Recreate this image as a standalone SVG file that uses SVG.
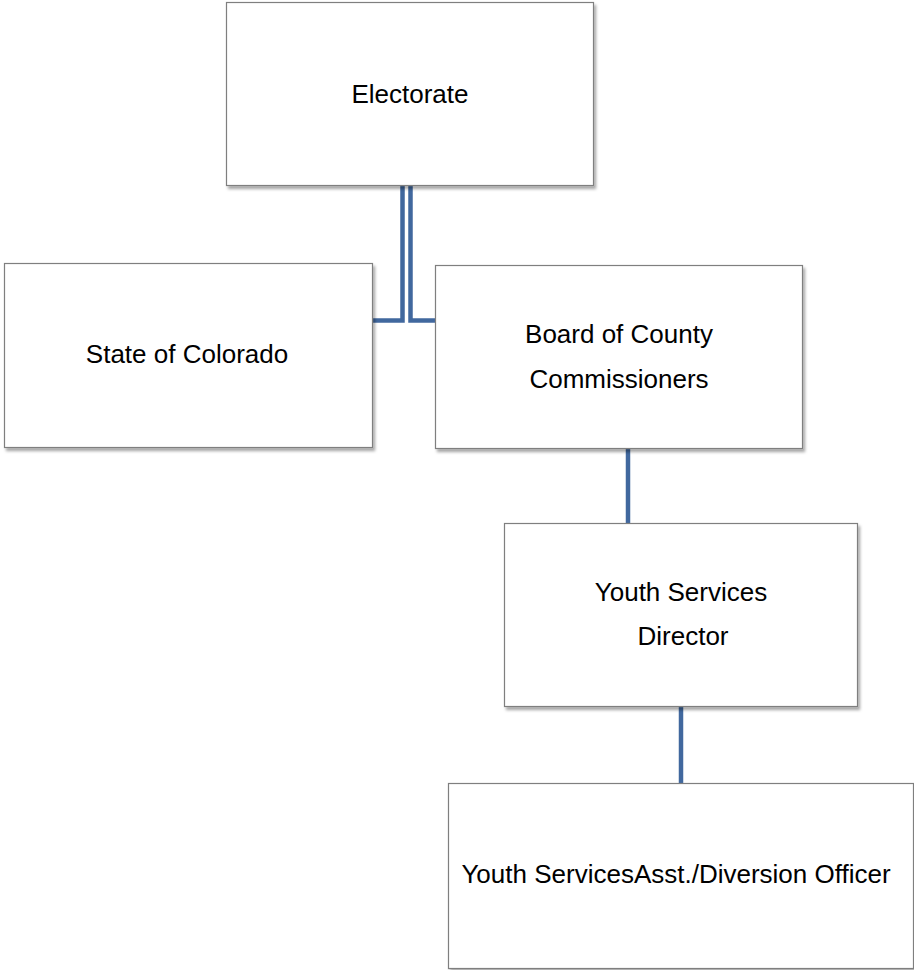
<svg xmlns="http://www.w3.org/2000/svg" width="914" height="970" viewBox="0 0 914 970">
<defs>
<filter id="sh" x="-5%" y="-5%" width="112%" height="115%">
<feDropShadow dx="2" dy="3" stdDeviation="1.8" flood-color="#000" flood-opacity="0.35"/>
</filter>
<style>
.box{fill:#fff;stroke:#7f7f7f;stroke-width:1.2;filter:url(#sh)}
.lbl{font-family:"Liberation Sans","Noto Sans",Arial,sans-serif;font-size:26px;fill:#000;text-anchor:middle}
.conn{fill:none;stroke:#41689e;stroke-width:4.5}
</style>
</defs>
<rect width="914" height="970" fill="#fff"/>
<g id="connectors">
<path class="conn" d="M402.5,185 V320.5 H372"/>
<path class="conn" d="M410.5,185 V320.5 H435"/>
<path class="conn" d="M628,448 V523"/>
<path class="conn" d="M681,707 V783"/>
</g>
<g id="electorate">
<rect class="box" x="226.5" y="2.5" width="367" height="183"/>
<text class="lbl" x="410" y="103">Electorate</text>
</g>
<g id="state">
<rect class="box" x="4.5" y="263.5" width="368" height="184"/>
<text class="lbl" x="187" y="363">State of Colorado</text>
</g>
<g id="board">
<rect class="box" x="435.5" y="265.5" width="367" height="183"/>
<text class="lbl" x="619" y="343">Board of County</text>
<text class="lbl" x="619" y="388">Commissioners</text>
</g>
<g id="director">
<rect class="box" x="504.5" y="523.5" width="353" height="183"/>
<text class="lbl" x="681" y="601">Youth Services</text>
<text class="lbl" x="683" y="645">Director</text>
</g>
<g id="officer">
<rect class="box" x="448.5" y="783.5" width="465" height="185"/>
<text class="lbl" x="676" y="883">Youth ServicesAsst./Diversion Officer</text>
</g>
</svg>
